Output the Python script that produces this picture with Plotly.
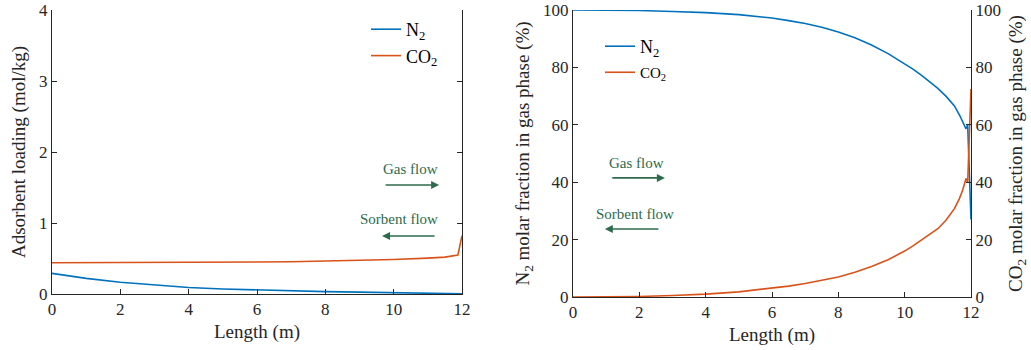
import plotly.graph_objects as go

# Adsorbent loading along the column
length_load = [0, 1, 2, 3, 4, 5, 6, 7, 8, 9, 10, 11, 11.5, 11.88, 12]
n2_loading = [0.29, 0.22, 0.165, 0.125, 0.092, 0.07, 0.055, 0.043, 0.034, 0.026,
              0.019, 0.012, 0.008, 0.005, 0.003]
co2_loading = [0.44, 0.44, 0.44, 0.443, 0.445, 0.447, 0.45, 0.455, 0.462, 0.472,
               0.485, 0.505, 0.52, 0.55, 0.82]

# Gas-phase molar fractions along the column (%)
length_frac = [0, 1, 2, 3, 4, 5, 6, 6.5, 7, 7.5, 8, 8.5, 9, 9.5, 10, 10.25, 10.5,
               10.75, 11, 11.25, 11.5, 11.65, 11.75, 11.85, 11.9, 12]
n2_fraction = [100, 99.95, 99.8, 99.5, 99.1, 98.4, 97.2, 96.3, 95.3, 94.0, 92.3,
               90.3, 87.8, 84.8, 81.3, 79.4, 77.3, 75.1, 72.7, 69.9, 66.6, 63.5,
               61.3, 58.6, 60.0, 27.0]
co2_fraction = [0, 0.05, 0.2, 0.5, 1.0, 1.8, 3.0, 3.8, 4.7, 5.8, 7.0, 8.6, 10.6,
                13.0, 16.0, 17.8, 19.8, 21.6, 23.8, 26.8, 30.8, 34.3, 37.3, 41.3,
                39.8, 72.5]

BLUE = "#0072BD"
ORANGE = "#D95319"
GREEN = "#2E6B4C"
AXIS = "#262626"
FONT = "Liberation Serif"
W, H = 1031, 350

fig = go.Figure()

fig.add_trace(go.Scatter(x=length_load, y=n2_loading, mode="lines",
                         name="N<sub>2</sub>", line=dict(color=BLUE, width=1.6),
                         xaxis="x", yaxis="y", legend="legend"))
fig.add_trace(go.Scatter(x=length_load, y=co2_loading, mode="lines",
                         name="CO<sub>2</sub>", line=dict(color=ORANGE, width=1.6),
                         xaxis="x", yaxis="y", legend="legend"))

fig.add_trace(go.Scatter(x=length_frac, y=n2_fraction, mode="lines",
                         name="N<sub>2</sub>", line=dict(color=BLUE, width=1.6),
                         xaxis="x2", yaxis="y2", legend="legend2"))
fig.add_trace(go.Scatter(x=length_frac, y=co2_fraction, mode="lines",
                         name="CO<sub>2</sub>", line=dict(color=ORANGE, width=1.6),
                         xaxis="x2", yaxis="y3", legend="legend3"))

tick_font = dict(family=FONT, size=17, color=AXIS)
title_font = dict(family=FONT, size=19, color=AXIS)

common = dict(showgrid=False, zeroline=False, showline=True, linecolor=AXIS,
              linewidth=1, ticks="inside", ticklen=5, tickcolor=AXIS,
              tickfont=tick_font, automargin=False)

fig.update_layout(
    width=W, height=H,
    margin=dict(l=0, r=0, t=0, b=0),
    paper_bgcolor="white", plot_bgcolor="white",
    font=dict(family=FONT, color=AXIS),
    xaxis=dict(domain=[52 / W, 462 / W], range=[0, 12], dtick=2, anchor="y",
               title=dict(text="Length (m)", font=title_font, standoff=6),
               **common),
    yaxis=dict(domain=[1 - 294 / H, 1 - 10 / H], range=[0, 4], dtick=1,
               anchor="x", mirror="ticks",
               title=dict(text="Adsorbent loading (mol/kg)", font=title_font,
                          standoff=8),
               **common),
    xaxis2=dict(domain=[573 / W, 971 / W], range=[0, 12], dtick=2, anchor="y2",
                title=dict(text="Length (m)", font=title_font, standoff=6),
                **common),
    yaxis2=dict(domain=[1 - 297 / H, 1 - 10 / H], range=[0, 100], dtick=20,
                anchor="x2",
                title=dict(text="N<sub>2</sub> molar fraction in gas phase (%)",
                           font=title_font, standoff=8),
                **common),
    yaxis3=dict(range=[0, 100], dtick=20, anchor="x2", overlaying="y2",
                side="right",
                title=dict(text="CO<sub>2</sub> molar fraction in gas phase (%)",
                           font=title_font, standoff=8),
                **common),
    legend=dict(x=366 / W, y=1 - 11 / H, xanchor="left", yanchor="top",
                bgcolor="rgba(0,0,0,0)", font=dict(family=FONT, size=18, color="black")),
    legend2=dict(x=600 / W, y=1 - 28 / H, xanchor="left", yanchor="top",
                 bgcolor="rgba(0,0,0,0)", font=dict(family=FONT, size=18, color="black")),
    legend3=dict(x=600 / W, y=1 - 56 / H, xanchor="left", yanchor="top",
                 bgcolor="rgba(0,0,0,0)", font=dict(family=FONT, size=15, color="black")),
    showlegend=True,
)

# Flow-direction arrows and labels
arrow_style = dict(showarrow=True, arrowhead=2, arrowsize=1, arrowwidth=1.6,
                   arrowcolor=GREEN, text="")
label_font = dict(family=FONT, size=15, color=GREEN)

fig.add_annotation(xref="x", yref="y", axref="x", ayref="y",
                   x=11.33, y=1.535, ax=9.72, ay=1.535, **arrow_style)
fig.add_annotation(xref="x", yref="y", x=10.48, y=1.76, text="Gas flow",
                   showarrow=False, font=label_font)
fig.add_annotation(xref="x", yref="y", axref="x", ayref="y",
                   x=9.66, y=0.817, ax=11.24, ay=0.817, **arrow_style)
fig.add_annotation(xref="x", yref="y", x=10.16, y=1.056, text="Sorbent flow",
                   showarrow=False, font=label_font)

fig.add_annotation(xref="x2", yref="y2", axref="x2", ayref="y2",
                   x=2.77, y=41.5, ax=1.14, ay=41.5, **arrow_style)
fig.add_annotation(xref="x2", yref="y2", x=1.92, y=46.7, text="Gas flow",
                   showarrow=False, font=label_font)
fig.add_annotation(xref="x2", yref="y2", axref="x2", ayref="y2",
                   x=0.96, y=23.7, ax=2.62, ay=23.7, **arrow_style)
fig.add_annotation(xref="x2", yref="y2", x=1.87, y=28.9, text="Sorbent flow",
                   showarrow=False, font=label_font)

fig.write_html("out.html")
